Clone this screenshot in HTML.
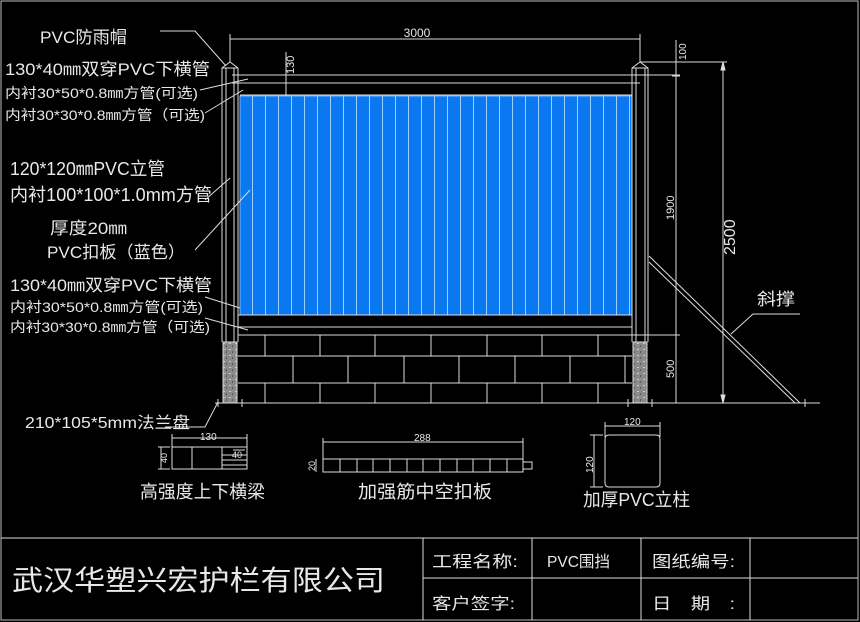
<!DOCTYPE html>
<html><head><meta charset="utf-8"><style>
html,body{margin:0;padding:0;background:#000;}
svg{display:block}
text{font-family:"Liberation Sans","Noto Sans CJK SC",sans-serif;fill:#e8e8e8;}
</style></head><body>
<svg width="860" height="622" viewBox="0 0 860 622" xmlns="http://www.w3.org/2000/svg">
<rect x="0" y="0" width="860" height="622" fill="#000"/>
<rect x="1" y="1" width="857" height="619" fill="none" stroke="#bbb" stroke-width="1"/>
<defs>
<pattern id="conc" width="6" height="6" patternUnits="userSpaceOnUse">
<rect width="6" height="6" fill="#8a8a8a"/><rect x="1" y="1" width="2" height="1" fill="#ccc"/><rect x="4" y="3" width="1" height="2" fill="#555"/>
</pattern>
<pattern id="slats" x="240" y="0" width="13" height="10" patternUnits="userSpaceOnUse">
<rect width="13" height="10" fill="#0a78f0"/><rect x="12" width="1" height="10" fill="#9cd0ff"/>
</pattern>
</defs>
<g stroke="#ddd" stroke-width="1" fill="none">
<rect x="240" y="96" width="392" height="219" fill="url(#slats)" stroke="#7ab8ff"/>
<line x1="232" y1="75" x2="680" y2="75"/><line x1="232" y1="83" x2="640" y2="83"/><line x1="240" y1="95" x2="632" y2="95"/>
<line x1="238" y1="315" x2="632" y2="315"/><line x1="238" y1="327" x2="632" y2="327"/><line x1="238" y1="335" x2="680" y2="335"/>
<path d="M222 342 V68 L230 62 L238 68 V342"/><line x1="226" y1="68" x2="226" y2="342"/><line x1="234" y1="68" x2="234" y2="342"/><line x1="222" y1="68" x2="238" y2="68"/>
<path d="M632 342 V68 L640 62 L648 68 V342"/><line x1="636" y1="68" x2="636" y2="342"/><line x1="645" y1="68" x2="645" y2="342"/><line x1="632" y1="68" x2="648" y2="68"/>
<rect x="223" y="342" width="14" height="61" fill="url(#conc)"/>
<rect x="633" y="342" width="14" height="61" fill="url(#conc)"/>
<line x1="238" y1="356" x2="632" y2="356"/><line x1="238" y1="383" x2="632" y2="383"/>
<path d="M265 335V356M320 335V356M375 335V356M431 335V356M487 335V356M542 335V356M598 335V356M265 383V403M320 383V403M375 383V403M431 383V403M487 383V403M542 383V403M598 383V403M293 356V383M348 356V383M404 356V383M459 356V383M515 356V383M570 356V383M625 356V383"/>
<line x1="215" y1="403" x2="820" y2="403"/>
<path d="M218 399V407M242 399V407M628 399V407M652 399V407M805 399V407"/>
<line x1="230" y1="39" x2="640" y2="39"/><line x1="230" y1="34" x2="230" y2="62"/><line x1="640" y1="34" x2="640" y2="62"/>
<line x1="286" y1="52" x2="286" y2="96"/>
<line x1="640" y1="62" x2="727" y2="62"/>
<line x1="676" y1="40" x2="676" y2="403"/><path d="M672 76H680M672 335H680"/>
<line x1="723" y1="62" x2="723" y2="403"/>
<path d="M723 62l-2 8h4zM723 403l-2-8h4z" fill="#ddd"/>
<line x1="649" y1="256" x2="800" y2="403"/><line x1="649" y1="262" x2="795" y2="403"/>
<path d="M731 334 L753 314 H800"/>
<path d="M160 31H195L226 66"/>
<path d="M200 90L248 79M205 113L243 90M205 200L230 178M195 250L250 190M205 297L240 308M205 318L248 330"/>
<path d="M218 402L205 427H165"/>
<line x1="172" y1="438" x2="247" y2="438"/><path d="M172 434V447M247 434V447"/>
<rect x="172" y="447" width="75" height="22"/><path d="M192 447V469M222 447V469M222 455H247M222 460H247M222 465H247M233 450H245"/>
<path d="M161 447V469M158 447H170M158 469H170"/>
<line x1="323" y1="442" x2="523" y2="442"/><path d="M323 438V459M523 438V459"/>
<path d="M323 459H523V472H323Z M523 462H532V469H523M340 459V472M357 459V472M373 459V472M390 459V472M407 459V472M423 459V472M440 459V472M457 459V472M473 459V472M490 459V472M507 459V472"/>
<path d="M316 459V472"/>
<line x1="605" y1="426" x2="660" y2="426"/><path d="M605 422V437M660 422V437"/>
<path d="M609 435H656Q660 435 660 439V483Q660 487 656 487H609Q605 487 605 483V439Q605 435 609 435Z"/>
<path d="M594 435V487M590 435H603M590 487H603"/>
<line x1="1" y1="538" x2="858" y2="538"/>
<line x1="423" y1="578" x2="858" y2="578"/>
<path d="M423 538V620M532 538V620M641 538V620M750 538V620"/>
</g>
<g font-size="12">
<text x="417" y="37" text-anchor="middle">3000</text>
<text transform="translate(294,74) rotate(-90)" font-size="11">130</text>
<text transform="translate(686,60) rotate(-90)" font-size="10">100</text>
<text transform="translate(674,220) rotate(-90)" font-size="11">1900</text>
<text transform="translate(735,255) rotate(-90)" font-size="16">2500</text>
<text transform="translate(674,378) rotate(-90)" font-size="11">500</text>
<text x="200" y="440" font-size="10">130</text>
<text x="232" y="458" font-size="9">40</text>
<text transform="translate(167,463) rotate(-90)" font-size="9">40</text>
<text x="414" y="441" font-size="10">288</text>
<text transform="translate(315,471) rotate(-90)" font-size="9">20</text>
<text x="624" y="425" font-size="10">120</text>
<text transform="translate(593,473) rotate(-90)" font-size="10">120</text>
</g>
<g lengthAdjust="spacingAndGlyphs">
<text x="40" y="43" font-size="17" textLength="87" lengthAdjust="spacingAndGlyphs">PVC防雨帽</text>
<text x="5" y="75" font-size="17" textLength="205" lengthAdjust="spacingAndGlyphs">130*40㎜双穿PVC下横管</text>
<text x="5" y="98" font-size="14" textLength="193" lengthAdjust="spacingAndGlyphs">内衬30*50*0.8㎜方管(可选)</text>
<text x="5" y="120" font-size="14" textLength="200" lengthAdjust="spacingAndGlyphs">内衬30*30*0.8㎜方管（可选)</text>
<text x="10" y="175" font-size="18" textLength="155" lengthAdjust="spacingAndGlyphs">120*120㎜PVC立管</text>
<text x="10" y="201" font-size="18" textLength="202" lengthAdjust="spacingAndGlyphs">内衬100*100*1.0mm方管</text>
<text x="50" y="234" font-size="17" textLength="77" lengthAdjust="spacingAndGlyphs">厚度20㎜</text>
<text x="47" y="258" font-size="17" textLength="138" lengthAdjust="spacingAndGlyphs">PVC扣板（蓝色）</text>
<text x="10" y="291" font-size="17" textLength="202" lengthAdjust="spacingAndGlyphs">130*40㎜双穿PVC下横管</text>
<text x="10" y="312" font-size="14" textLength="193" lengthAdjust="spacingAndGlyphs">内衬30*50*0.8㎜方管(可选)</text>
<text x="10" y="332" font-size="14" textLength="200" lengthAdjust="spacingAndGlyphs">内衬30*30*0.8㎜方管（可选)</text>
<text x="25" y="428" font-size="16" textLength="165" lengthAdjust="spacingAndGlyphs">210*105*5mm法兰盘</text>
<text x="140" y="498" font-size="18" textLength="125" lengthAdjust="spacingAndGlyphs">高强度上下横梁</text>
<text x="358" y="498" font-size="18" textLength="134" lengthAdjust="spacingAndGlyphs">加强筋中空扣板</text>
<text x="583" y="506" font-size="18" textLength="107" lengthAdjust="spacingAndGlyphs">加厚PVC立柱</text>
<text x="757" y="305" font-size="17" textLength="38" lengthAdjust="spacingAndGlyphs">斜撑</text>
<text x="12" y="590" font-size="28" textLength="373" lengthAdjust="spacingAndGlyphs">武汉华塑兴宏护栏有限公司</text>
<text x="432" y="567" font-size="16" textLength="86" lengthAdjust="spacingAndGlyphs">工程名称:</text>
<text x="547" y="567" font-size="16" textLength="63" lengthAdjust="spacingAndGlyphs">PVC围挡</text>
<text x="652" y="567" font-size="16" textLength="83" lengthAdjust="spacingAndGlyphs">图纸编号:</text>
<text x="432" y="609" font-size="16" textLength="83" lengthAdjust="spacingAndGlyphs">客户签字:</text>
<text x="652" y="609" font-size="16" textLength="83" lengthAdjust="spacingAndGlyphs">日　期　:</text>
</g>
</svg>
</body></html>
